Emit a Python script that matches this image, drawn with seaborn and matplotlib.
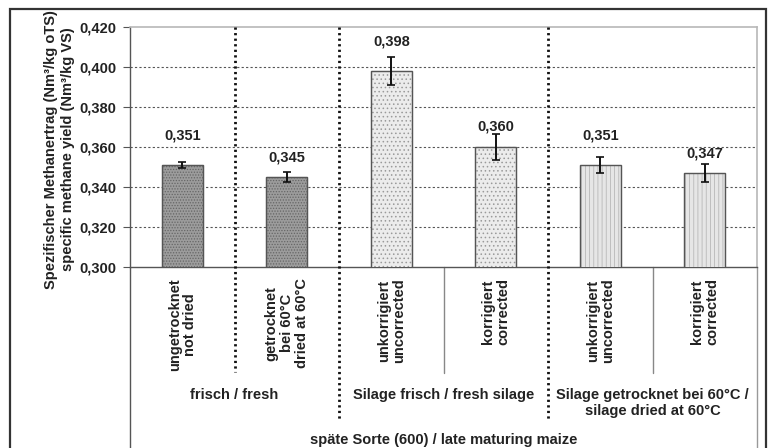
import pandas as pd
import matplotlib
matplotlib.use("Agg")
import matplotlib.pyplot as plt
import matplotlib.transforms as mtransforms
from matplotlib.patches import Rectangle
import seaborn as sns

# Data
bar_keys = ["frisch_ungetrocknet", "frisch_getrocknet", "silage_unkorr",
            "silage_korr", "silage60_unkorr", "silage60_korr"]
tick_labels = ["ungetrocknet\nnot dried",
               "getrocknet\nbei 60°C\ndried at 60°C",
               "unkorrigiert\nuncorrected",
               "korrigiert\ncorrected",
               "unkorrigiert\nuncorrected",
               "korrigiert\ncorrected"]
yield_values = [0.351, 0.345, 0.398, 0.360, 0.351, 0.347]
yield_errors = [0.0015, 0.0025, 0.007, 0.0065, 0.004, 0.0045]
group_labels = ["frisch / fresh", "Silage frisch / fresh silage",
                "Silage getrocknet bei 60°C /\nsilage dried at 60°C"]
main_label = "späte Sorte (600) / late maturing maize"
y_ticks = [0.300, 0.320, 0.340, 0.360, 0.380, 0.400, 0.420]

df = pd.DataFrame({"bar": bar_keys, "value": yield_values})

sns.set_theme(style="white")
plt.rcParams["font.family"] = ["Liberation Sans", "DejaVu Sans"]
plt.rcParams["font.weight"] = "bold"
plt.rcParams["hatch.linewidth"] = 0.6

fig = plt.figure(figsize=(7.71, 4.48), dpi=100)
ax = fig.add_axes([130 / 771, 1 - 267 / 448, 627 / 771, 240 / 448])

face_colors = ["#9c9c9c", "#9c9c9c", "#ececec", "#ececec", "#e6e6e6", "#e6e6e6"]
hatches = ["......", "......", "....", "....", "||||", "||||"]
edge_colors = ["#666666", "#666666", "#9a9a9a", "#9a9a9a", "#b8b8b8", "#b8b8b8"]

sns.barplot(data=df, x="bar", y="value", order=bar_keys, hue="bar",
            palette=face_colors, legend=False, width=0.39, ax=ax, zorder=3)
for patch, hc, ec in zip(ax.patches, hatches, edge_colors):
    patch.set_hatch(hc)
    patch.set_edgecolor(ec)
    patch.set_linewidth(0.8)
# outline on top
for patch in list(ax.patches):
    ax.add_patch(Rectangle(patch.get_xy(), patch.get_width(), patch.get_height(),
                           fill=False, edgecolor="#555555", lw=1.0, zorder=4))

ax.errorbar(range(len(bar_keys)), yield_values, yerr=yield_errors, fmt="none",
            ecolor="#111111", elinewidth=1.4, capsize=3, capthick=1.2, zorder=5)

for i, v in enumerate(yield_values):
    off = 0.0145 if i % 2 == 0 else 0.0100
    ax.text(i, v + off, f"{v:.3f}".replace(".", ","), ha="center", va="center",
            fontsize=10.5, fontweight="bold", color="#222222")

ax.set_ylim(0.300, 0.420)
ax.set_xlim(-0.5, 5.5)
ax.set_yticks(y_ticks)
ax.set_yticklabels([f"{t:.3f}".replace(".", ",") for t in y_ticks],
                   fontsize=10.5, fontweight="bold", color="#222222")
ax.tick_params(axis="y", left=True, length=5, width=0.8, color="#555555", pad=5)
ax.set_xticks(range(len(bar_keys)))
ax.set_xticklabels(tick_labels, rotation=90, ha="center", va="top",
                   multialignment="center", fontsize=10.5, fontweight="bold",
                   color="#222222", linespacing=1.1)
ax.tick_params(axis="x", bottom=False, pad=2)
ax.set_xlabel("")
ax.set_ylabel("Spezifischer Methanertrag (Nm³/kg oTS)\nspecific methane yield (Nm³/kg VS)",
              fontsize=10.5, fontweight="bold", color="#222222",
              linespacing=1.25)
ax.yaxis.set_label_coords(-0.088, 0.49)

for y in y_ticks[1:-1]:
    ax.axhline(y, color="#555555", lw=0.8, ls=(0, (2, 2)), zorder=1)

for side in ["top", "right"]:
    ax.spines[side].set_color("#b8b8b8")
    ax.spines[side].set_linewidth(1.2)
for side in ["left", "bottom"]:
    ax.spines[side].set_color("#555555")
    ax.spines[side].set_linewidth(1.0)

trans = mtransforms.blended_transform_factory(ax.transData, ax.transAxes)
# dotted group separators
for x, ybot in [(0.5, -0.4375), (1.5, -0.6375), (3.5, -0.6375)]:
    ax.plot([x, x], [1, ybot], transform=trans, color="#111111", lw=2.0,
            ls=(0, (0.8, 1.2)), clip_on=False, zorder=6)
# thin separators in label area
for x in [2.5, 4.5]:
    ax.plot([x, x], [0, -0.44], transform=trans, color="#888888", lw=1.0,
            clip_on=False)
ax.plot([-0.5, -0.5], [0, -0.8], transform=trans, color="#555555", lw=1.0,
        clip_on=False)
ax.plot([5.5, 5.5], [0, -0.8], transform=trans, color="#999999", lw=1.0,
        clip_on=False)

# group labels
for gx, lab in zip([0.5, 2.5, 4.5], group_labels):
    ax.text(gx, -0.505, lab, transform=trans, ha="center", va="top",
            fontsize=10.5, fontweight="bold", color="#222222", linespacing=1.2)
ax.text(2.5, -0.722, main_label, transform=trans, ha="center", va="center",
        fontsize=10.5, fontweight="bold", color="#222222")

# outer frame
fig.patches.append(Rectangle((10 / 771, -0.05), 756 / 771, 1.05 - 9 / 448,
                             transform=fig.transFigure, fill=False,
                             edgecolor="#333333", lw=1.6))

fig.savefig("out.png", dpi=100)
